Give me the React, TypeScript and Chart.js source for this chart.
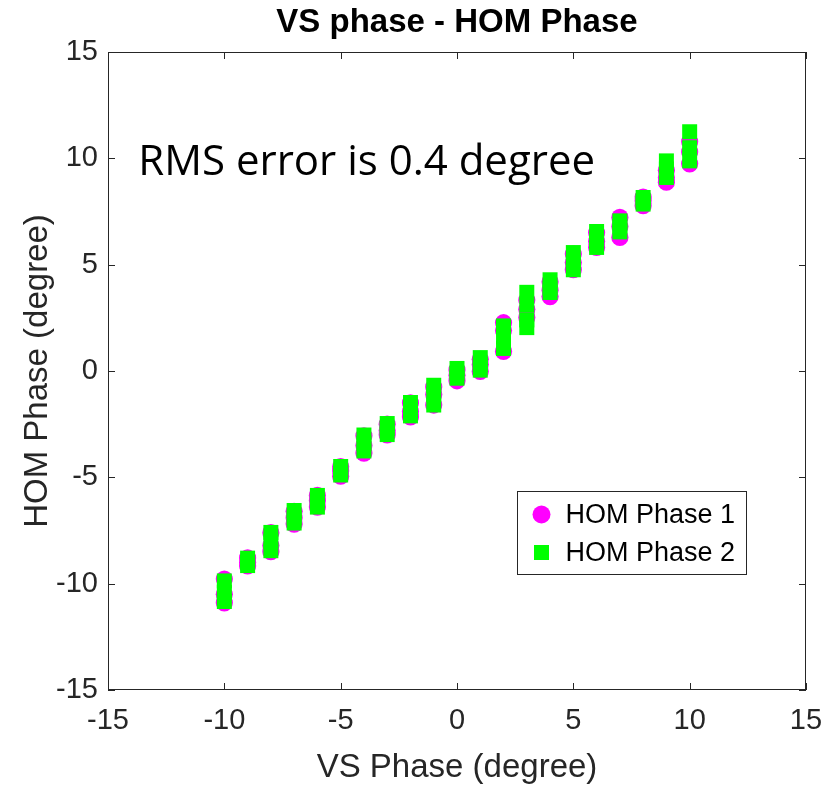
import React, { useEffect, useRef } from "react";
import { Chart, registerables } from "chart.js";

Chart.register(...registerables);

const chartTitle = "VS phase - HOM Phase";
const xAxisLabel = "VS Phase (degree)";
const yAxisLabel = "HOM Phase (degree)";
const noteText = "RMS error is 0.4 degree";
const seriesNames = ["HOM Phase 1", "HOM Phase 2"];
const axisMin = -15;
const axisMax = 15;
const tickStep = 5;

// HOM Phase 1 (magenta circles)
const vsPhase1 = [
  -10, -10, -10, -9, -9, -9, -8, -8, -8, -7, -7, -7, -6, -6, -6, -5, -5, -5,
  -4, -4, -4, -3, -3, -3, -2, -2, -2, -1, -1, -1, 0, 0, 0, 1, 1, 1,
  2, 2, 2, 3, 3, 3, 4, 4, 4, 5, 5, 5, 6, 6, 6, 7, 7, 7, 8, 8, 8, 9, 9, 9, 10, 10, 10,
];
const homPhase1 = [
  -9.78, -10.5, -10.9, -8.79, -9.0, -9.17, -7.6, -8.2, -8.5, -6.6, -6.9, -7.2,
  -5.85, -6.1, -6.4, -4.5, -4.7, -4.95, -3.05, -3.5, -3.86, -2.5, -2.8, -3.0,
  -1.5, -1.9, -2.16, -0.75, -1.1, -1.6, 0.05, -0.2, -0.46, 0.55, 0.3, -0.02,
  2.27, 1.9, 0.92, 3.34, 2.9, 2.52, 4.2, 3.8, 3.5, 5.5, 5.1, 4.76,
  6.5, 6.1, 5.81, 7.22, 6.8, 6.28, 8.18, 8.0, 7.77, 9.44, 9.1, 8.88, 10.78, 10.3, 9.74,
];

// HOM Phase 2 (green squares)
const vsPhase2 = [
  -10, -10, -10, -9, -9, -9, -8, -8, -8, -7, -7, -7, -6, -6, -6, -5, -5, -5,
  -4, -4, -4, -3, -3, -3, -2, -2, -2, -1, -1, -1, 0, 0, 0, 1, 1, 1,
  2, 2, 2, 3, 3, 3, 3, 4, 4, 4, 5, 5, 5, 6, 6, 6, 7, 7, 7, 8, 8, 8, 9, 9, 9, 10, 10, 10,
];
const homPhase2 = [
  -9.87, -10.4, -10.84, -8.8, -9.0, -9.15, -7.59, -8.0, -8.45, -6.56, -6.9, -7.15,
  -5.85, -6.1, -6.4, -4.49, -4.7, -4.89, -3.01, -3.4, -3.76, -2.47, -2.7, -2.99,
  -1.48, -1.8, -2.11, -0.67, -1.1, -1.6, 0.12, -0.1, -0.34, 0.63, 0.3, 0.04,
  2.12, 1.6, 1.06, 3.7, 3.1, 2.4, 2.04, 4.29, 3.9, 3.69, 5.57, 5.1, 4.76,
  6.56, 6.1, 5.81, 7.06, 6.8, 6.54, 8.16, 8.0, 7.85, 9.88, 9.5, 9.1, 11.25, 10.5, 9.88,
];

// annotation anchor (data coordinates)
const noteX = -13.7;
const noteY = 9.8;

const FONT = "'Liberation Sans', Arial, Helvetica, sans-serif";
const AXIS_COLOR = "#262626";

const toPoints = (xs: number[], ys: number[]) => xs.map((x, i) => ({ x, y: ys[i] }));

const matlabPlugin = {
  id: "matlabDecor",
  afterDraw(chart: any) {
    const { ctx, chartArea: a, scales } = chart;
    ctx.save();
    // box
    ctx.strokeStyle = AXIS_COLOR;
    ctx.lineWidth = 1;
    ctx.strokeRect(a.left + 0.5, a.top + 0.5, a.right - a.left - 1, a.bottom - a.top - 1);
    // inward ticks
    const tl = 7;
    ctx.beginPath();
    for (let v = axisMin; v <= axisMax; v += tickStep) {
      const px = Math.round(scales.x.getPixelForValue(v)) + 0.5;
      ctx.moveTo(px, a.bottom);
      ctx.lineTo(px, a.bottom - tl);
      ctx.moveTo(px, a.top);
      ctx.lineTo(px, a.top + tl);
      const py = Math.round(scales.y.getPixelForValue(v)) + 0.5;
      ctx.moveTo(a.left, py);
      ctx.lineTo(a.left + tl, py);
      ctx.moveTo(a.right, py);
      ctx.lineTo(a.right - tl, py);
    }
    ctx.stroke();

    // annotation text
    ctx.fillStyle = "#000000";
    ctx.font = "42px 'Open Sans', 'Noto Sans', sans-serif";
    ctx.textAlign = "left";
    ctx.textBaseline = "middle";
    ctx.fillText(noteText, scales.x.getPixelForValue(noteX), scales.y.getPixelForValue(noteY));

    // legend box
    const bw = 229;
    const bh = 83;
    const bx = Math.round(a.right - 60 - bw) + 0.5;
    const by = Math.round(a.bottom - 116 - bh) + 0.5;
    ctx.fillStyle = "#ffffff";
    ctx.fillRect(bx, by, bw, bh);
    ctx.strokeStyle = AXIS_COLOR;
    ctx.strokeRect(bx, by, bw, bh);
    const ds = chart.data.datasets;
    const rows = [ds[1], ds[0]]; // legend order: series 1 then series 2
    rows.forEach((d: any, i: number) => {
      const cy = by + 23 + i * 38;
      const cx = bx + 24;
      ctx.fillStyle = d.backgroundColor;
      if (d.pointStyle === "circle") {
        ctx.beginPath();
        ctx.arc(cx, cy, 9, 0, Math.PI * 2);
        ctx.fill();
      } else {
        ctx.fillRect(cx - 7.5, cy - 7.5, 15, 15);
      }
      ctx.fillStyle = "#000000";
      ctx.font = `27px ${FONT}`;
      ctx.textAlign = "left";
      ctx.textBaseline = "middle";
      ctx.fillText(d.label, bx + 48, cy + 1);
    });
    ctx.restore();
  },
};

export default function App() {
  const canvasRef = useRef<HTMLCanvasElement | null>(null);

  useEffect(() => {
    const canvas = canvasRef.current;
    if (!canvas) return;
    const chart = new Chart(canvas, {
      type: "scatter",
      data: {
        datasets: [
          {
            label: seriesNames[1],
            data: toPoints(vsPhase2, homPhase2),
            pointStyle: "rect",
            pointRadius: 10.6,
            pointHoverRadius: 10.6,
            backgroundColor: "#00FF00",
            borderColor: "#00FF00",
            pointBackgroundColor: "#00FF00",
            pointBorderColor: "#00FF00",
            pointBorderWidth: 0,
            borderWidth: 0,
          },
          {
            label: seriesNames[0],
            data: toPoints(vsPhase1, homPhase1),
            pointStyle: "circle",
            pointRadius: 8.6,
            pointHoverRadius: 8.6,
            backgroundColor: "#FF00FF",
            borderColor: "#FF00FF",
            pointBackgroundColor: "#FF00FF",
            pointBorderColor: "#FF00FF",
            pointBorderWidth: 0,
            borderWidth: 0,
          },
        ],
      },
      options: {
        responsive: false,
        animation: false,
        devicePixelRatio: 1,
        layout: { padding: { left: 0, right: 20, top: 0, bottom: 0 } },
        plugins: {
          legend: { display: false },
          tooltip: { enabled: false },
          title: {
            display: true,
            fullSize: false,
            text: chartTitle,
            color: "#000000",
            font: { family: FONT, size: 33, weight: "bold", lineHeight: 1.2 },
            padding: { top: 3, bottom: 9.4 },
          },
        },
        scales: {
          x: {
            type: "linear",
            min: axisMin,
            max: axisMax,
            ticks: {
              stepSize: tickStep,
              color: AXIS_COLOR,
              font: { family: FONT, size: 29 },
              padding: 14,
            },
            grid: { display: false, drawTicks: false },
            border: { display: false },
            title: {
              display: true,
              text: xAxisLabel,
              color: AXIS_COLOR,
              font: { family: FONT, size: 33 },
              padding: { top: 0, bottom: 0 },
            },
            afterFit: (s: any) => {
              s.height = 98;
              s.paddingLeft = 0;
              s.paddingRight = 0;
            },
          },
          y: {
            type: "linear",
            min: axisMin,
            max: axisMax,
            ticks: {
              stepSize: tickStep,
              color: AXIS_COLOR,
              font: { family: FONT, size: 29 },
              padding: 10,
            },
            grid: { display: false, drawTicks: false },
            border: { display: false },
            title: {
              display: true,
              text: yAxisLabel,
              color: AXIS_COLOR,
              font: { family: FONT, size: 33 },
              padding: { top: 18, bottom: 0 },
            },
            afterFit: (s: any) => {
              s.width = 108;
            },
          },
        },
      },
      plugins: [matlabPlugin],
    });
    return () => chart.destroy();
  }, []);

  return (
    <div style={{ position: "fixed", left: 0, top: 0, width: 826, height: 788, background: "#fff" }}>
      <canvas ref={canvasRef} width={826} height={788} />
    </div>
  );
}
